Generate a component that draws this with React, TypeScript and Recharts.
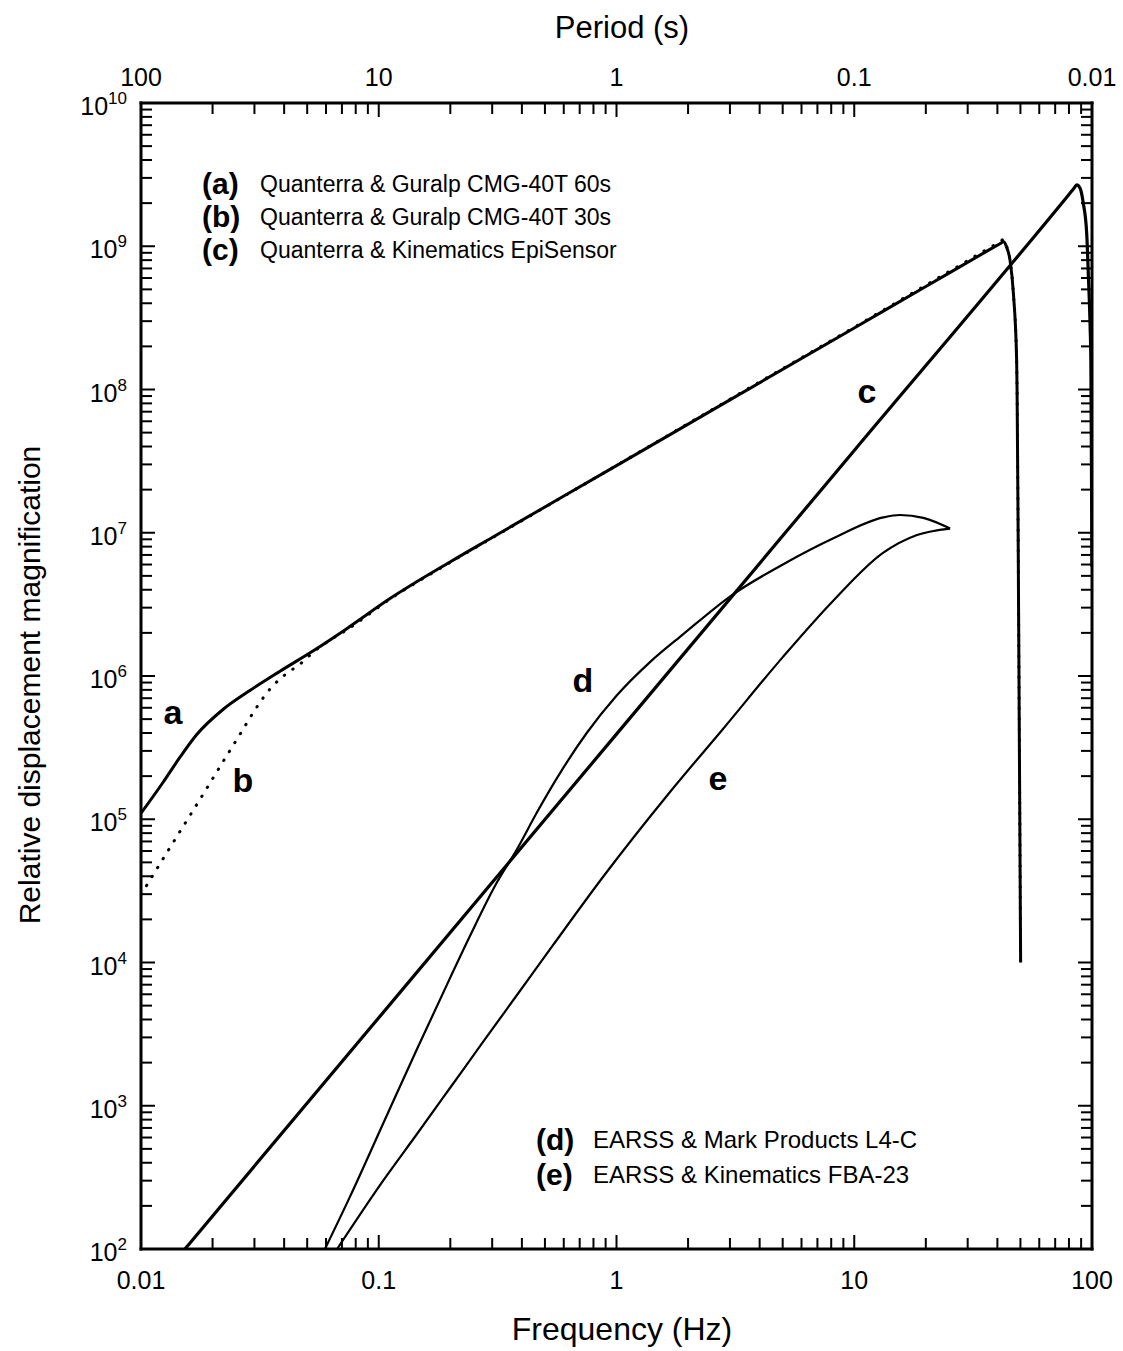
import React from 'react';
import { LineChart, Line, XAxis, YAxis } from 'recharts';

// (a) Quanterra & Guralp CMG-40T 60s
const freqA = [0.01, 0.01241, 0.01459, 0.01716, 0.02219, 0.02784, 0.03843, 0.05305, 0.07335, 0.1115, 0.1994, 0.3, 1, 3, 10, 20, 38, 41.5, 42.4, 43.7, 45.2, 46.7, 48.2, 48.4, 48.9, 49.3, 49.7, 50.1];
const magA = [1.1e5, 1.82e5, 2.71e5, 3.9e5, 5.86e5, 7.66e5, 1.08e6, 1.5e6, 2.14e6, 3.47e6, 6.25e6, 9.27e6, 2.94e7, 8.46e7, 2.69e8, 5.23e8, 9.7e8, 1.055e9, 1.08e9, 9.9e8, 8e8, 4.7e8, 1.6e8, 1e8, 1e7, 1e6, 1e5, 1e4];

// (b) Quanterra & Guralp CMG-40T 30s
const freqB = [0.01, 0.01202, 0.01459, 0.01772, 0.02149, 0.02609, 0.03066, 0.03487, 0.04034, 0.04665, 0.05395, 0.06237, 0.07335, 0.1115, 0.1994, 0.3, 1, 3, 10, 20, 38, 41.5, 42.4, 43.7, 45.2, 46.7, 48.2, 48.4, 48.9, 49.3, 49.7, 50.1];
const magB = [2.98e4, 4.89e4, 8.22e4, 1.38e5, 2.33e5, 3.92e5, 6.05e5, 8.11e5, 1.02e6, 1.21e6, 1.5e6, 1.78e6, 2.1e6, 3.44e6, 6.2e6, 9.2e6, 2.95e7, 8.55e7, 2.72e8, 5.35e8, 1.0e9, 1.09e9, 1.12e9, 1.0e9, 8e8, 4.7e8, 1.6e8, 1e8, 1e7, 1e6, 1e5, 1e4];

// (c) Quanterra & Kinematics EpiSensor
const freqC = [0.0153, 0.1, 1, 10, 80, 84, 86.3, 89.1, 91.9, 95, 96.6, 98.2, 98.9, 100];
const magC = [1e2, 4.11e3, 3.93e5, 3.75e7, 2.3e9, 2.54e9, 2.68e9, 2.54e9, 2e9, 1.23e9, 6.1e8, 2.74e8, 1.6e8, 5.8e6];

// (d) EARSS & Mark Products L4-C
const freqD = [0.0594, 0.0757, 0.1045, 0.1444, 0.1994, 0.2419, 0.3134, 0.3803, 0.4618, 0.5787, 0.7494, 1.002, 1.383, 1.91, 3.051, 5.03, 8.17, 13.25, 15.57, 19.52, 25.3];
const magD = [1e2, 232, 755, 2460, 7780, 1.53e4, 3.6e4, 6.12e4, 1.11e5, 2.1e5, 4.0e5, 7.31e5, 1.25e6, 1.96e6, 3.66e6, 6.03e6, 9.15e6, 1.28e7, 1.33e7, 1.27e7, 1.07e7];

// (e) EARSS & Kinematics FBA-23
const freqE = [0.0668, 0.1042, 0.1448, 0.1994, 0.2746, 0.3815, 0.5405, 0.877, 1.679, 2.805, 5.015, 8.14, 13.21, 18.36, 25.3];
const magE = [1e2, 299, 635, 1330, 2790, 5930, 1.32e4, 3.95e4, 1.55e5, 4.27e5, 1.36e6, 3.34e6, 7.23e6, 9.64e6, 1.07e7];

const freqMajor = [0.01, 0.1, 1, 10, 100];
const freqLabels = ['0.01', '0.1', '1', '10', '100'];
const periodLabels = ['100', '10', '1', '0.1', '0.01'];
const magMajor = [1e2, 1e3, 1e4, 1e5, 1e6, 1e7, 1e8, 1e9, 1e10];
const magExponents = ['2', '3', '4', '5', '6', '7', '8', '9', '10'];
const minorSteps = [2, 3, 4, 5, 6, 7, 8, 9];

const freqMinor = freqMajor.slice(0, -1).flatMap((d) => minorSteps.map((k) => +(k * d).toPrecision(6)));
const magMinor = magMajor.slice(0, -1).flatMap((d) => minorSteps.map((k) => k * d));
const freqTicks = [...freqMajor, ...freqMinor].sort((a, b) => a - b);
const magTicks = [...magMajor, ...magMinor].sort((a, b) => a - b);

const toPoints = (f: number[], m: number[]) => f.map((v, i) => ({ f: v, m: m[i] }));
const dataA = toPoints(freqA, magA);
const dataB = toPoints(freqB, magB);
const dataC = toPoints(freqC, magC);
const dataD = toPoints(freqD, magD);
const dataE = toPoints(freqE, magE);

const FONT = '"Liberation Sans", Arial, Helvetica, sans-serif';
const MAJOR = 14;
const MINOR = 11;

function BottomTick(props: any) {
  const { x, y, payload } = props;
  const i = freqMajor.indexOf(payload.value);
  return (
    <g>
      <line x1={x} y1={y} x2={x} y2={y - (i >= 0 ? MAJOR : MINOR)} stroke="#000" strokeWidth={2} />
      {i >= 0 && (
        <text x={x} y={y + 40} textAnchor="middle" fontSize={25} fontFamily={FONT} fill="#000">
          {freqLabels[i]}
        </text>
      )}
    </g>
  );
}

function TopTick(props: any) {
  const { x, y, payload } = props;
  const i = freqMajor.indexOf(payload.value);
  return (
    <g>
      <line x1={x} y1={y} x2={x} y2={y + (i >= 0 ? MAJOR : MINOR)} stroke="#000" strokeWidth={2} />
      {i >= 0 && (
        <text x={x} y={y - 17} textAnchor="middle" fontSize={25} fontFamily={FONT} fill="#000">
          {periodLabels[i]}
        </text>
      )}
    </g>
  );
}

function LeftTick(props: any) {
  const { x, y, payload } = props;
  const i = magMajor.indexOf(payload.value);
  return (
    <g>
      <line x1={x} y1={y} x2={x + (i >= 0 ? MAJOR : MINOR)} y2={y} stroke="#000" strokeWidth={2} />
      {i >= 0 && (
        <text x={x - 14} y={y + 12} textAnchor="end" fontFamily={FONT} fill="#000">
          <tspan fontSize={25}>10</tspan>
          <tspan fontSize={17} dy={-11}>{magExponents[i]}</tspan>
        </text>
      )}
    </g>
  );
}

function RightTick(props: any) {
  const { x, y, payload } = props;
  const major = magMajor.indexOf(payload.value) >= 0;
  return <line x1={x} y1={y} x2={x - (major ? MAJOR : MINOR)} y2={y} stroke="#000" strokeWidth={2} />;
}

const frame = { stroke: '#000', strokeWidth: 3, strokeLinecap: 'square' as const };

export default function App() {
  return (
    <div style={{ position: 'absolute', left: 0, top: 0, width: 1123, height: 1351, background: '#fff' }}>
      <LineChart width={1123} height={1351} margin={{ top: 43, right: 21, bottom: 42, left: 41 }}>
        <XAxis
          xAxisId="bottom"
          orientation="bottom"
          type="number"
          dataKey="f"
          scale="log"
          domain={[0.01, 100]}
          allowDataOverflow
          ticks={freqTicks}
          interval={0}
          tickSize={0}
          tickMargin={0}
          tickLine={false}
          tick={BottomTick}
          axisLine={frame}
          height={60}
        />
        <XAxis
          xAxisId="top"
          orientation="top"
          type="number"
          dataKey="f"
          scale="log"
          domain={[0.01, 100]}
          allowDataOverflow
          ticks={freqTicks}
          interval={0}
          tickSize={0}
          tickMargin={0}
          tickLine={false}
          tick={TopTick}
          axisLine={frame}
          height={60}
        />
        <YAxis
          yAxisId="left"
          orientation="left"
          type="number"
          dataKey="m"
          scale="log"
          domain={[1e2, 1e10]}
          allowDataOverflow
          ticks={magTicks}
          interval={0}
          tickSize={0}
          tickMargin={0}
          tickLine={false}
          tick={LeftTick}
          axisLine={frame}
          width={100}
        />
        <YAxis
          yAxisId="right"
          orientation="right"
          type="number"
          dataKey="m"
          scale="log"
          domain={[1e2, 1e10]}
          allowDataOverflow
          ticks={magTicks}
          interval={0}
          tickSize={0}
          tickMargin={0}
          tickLine={false}
          tick={RightTick}
          axisLine={frame}
          width={10}
        />
        <Line xAxisId="bottom" yAxisId="left" data={dataA} dataKey="m" type="monotone" stroke="#000" strokeWidth={3} dot={false} isAnimationActive={false} />
        <Line xAxisId="bottom" yAxisId="left" data={dataB} dataKey="m" type="monotone" stroke="#000" strokeWidth={3} strokeDasharray="0.5 10" strokeLinecap="round" dot={false} isAnimationActive={false} />
        <Line xAxisId="bottom" yAxisId="left" data={dataC} dataKey="m" type="monotone" stroke="#000" strokeWidth={3.2} dot={false} isAnimationActive={false} />
        <Line xAxisId="bottom" yAxisId="left" data={dataD} dataKey="m" type="monotone" stroke="#000" strokeWidth={2.2} dot={false} isAnimationActive={false} />
        <Line xAxisId="bottom" yAxisId="left" data={dataE} dataKey="m" type="monotone" stroke="#000" strokeWidth={2.2} dot={false} isAnimationActive={false} />
      </LineChart>

      <svg width={1123} height={1351} style={{ position: 'absolute', left: 0, top: 0, pointerEvents: 'none' }} fontFamily={FONT} fill="#000">
        <text x={622} y={38} textAnchor="middle" fontSize={31}>Period (s)</text>
        <text x={622} y={1340} textAnchor="middle" fontSize={32}>Frequency (Hz)</text>
        <text transform="translate(40, 685) rotate(-90)" textAnchor="middle" fontSize={30}>Relative displacement magnification</text>

        <text x={202} y={194} fontSize={30} fontWeight="bold">(a)</text>
        <text x={260} y={192} fontSize={23}>Quanterra &amp; Guralp CMG-40T 60s</text>
        <text x={202} y={227} fontSize={30} fontWeight="bold">(b)</text>
        <text x={260} y={225} fontSize={23}>Quanterra &amp; Guralp CMG-40T 30s</text>
        <text x={202} y={260} fontSize={30} fontWeight="bold">(c)</text>
        <text x={260} y={258} fontSize={23}>Quanterra &amp; Kinematics EpiSensor</text>

        <text x={536} y={1150} fontSize={30} fontWeight="bold">(d)</text>
        <text x={593} y={1148} fontSize={24}>EARSS &amp; Mark Products L4-C</text>
        <text x={536} y={1185} fontSize={30} fontWeight="bold">(e)</text>
        <text x={593} y={1183} fontSize={24}>EARSS &amp; Kinematics FBA-23</text>

        <text x={173} y={724} textAnchor="middle" fontSize={34} fontWeight="bold">a</text>
        <text x={243} y={792} textAnchor="middle" fontSize={34} fontWeight="bold">b</text>
        <text x={867} y={403} textAnchor="middle" fontSize={34} fontWeight="bold">c</text>
        <text x={583} y={692} textAnchor="middle" fontSize={34} fontWeight="bold">d</text>
        <text x={718} y={790} textAnchor="middle" fontSize={34} fontWeight="bold">e</text>
      </svg>
    </div>
  );
}
